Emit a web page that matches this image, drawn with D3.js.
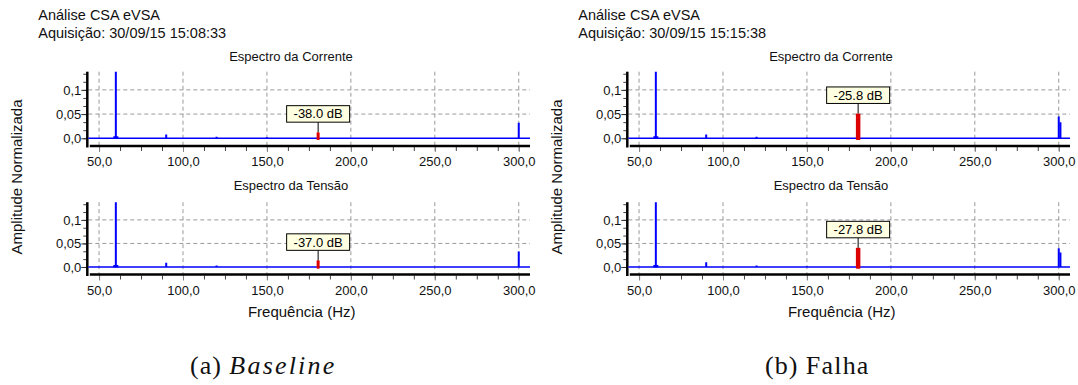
<!DOCTYPE html>
<html><head><meta charset="utf-8">
<script src="https://cdn.jsdelivr.net/npm/d3@7"></script>
<style>body{margin:0;background:#fff}svg{display:block}</style>
</head><body>
<svg id="c" width="1078" height="385"></svg>
<script>
// ---------- data ----------
const headerTitle = ["Análise CSA eVSA", "Análise CSA eVSA"];
const headerAcq = ["Aquisição: 30/09/15 15:08:33", "Aquisição: 30/09/15 15:15:38"];
const captionTag = ["(a) ", "(b) "];
const captionText = ["Baseline", "Falha"];
const plotTitles = ["Espectro da Corrente", "Espectro da Tensão"];
const xTicks = [50, 100, 150, 200, 250, 300];
const xTickLabels = ["50,0", "100,0", "150,0", "200,0", "250,0", "300,0"];
const yTicks = [0, 0.05, 0.1];
const yTickLabels = ["0,0", "0,05", "0,1"];
const xTitle = "Frequência (Hz)";
const yTitle = "Amplitude Normalizada";

// harmonic peaks (Hz) and normalized amplitudes per spectrum
const harmonicFreqs = [60, 90, 120, 150, 300, 301];
const ampBaselineCorrente = [1.0, 0.008, 0.003, 0.002, 0.032, 0.0];
const ampBaselineTensao   = [1.0, 0.009, 0.003, 0.0,   0.033, 0.0];
const ampFalhaCorrente    = [1.0, 0.008, 0.003, 0.001, 0.045, 0.033];
const ampFalhaTensao      = [1.0, 0.010, 0.003, 0.001, 0.040, 0.031];
const spectra = [[ampBaselineCorrente, ampBaselineTensao], [ampFalhaCorrente, ampFalhaTensao]];

// marked fault component
const faultFreq = 180.5;
const faultAmp = [[0.0126, 0.0141], [0.0513, 0.0407]];
const faultLabels = [["-38.0 dB", "-37.0 dB"], ["-25.8 dB", "-27.8 dB"]];

// ---------- layout ----------
const SANS = "'Liberation Sans', Arial, sans-serif";
const SERIF = "'Liberation Serif', 'Times New Roman', serif";
const panelX = [0, 540];
const plotRange = [[146, 71.7], [274.5, 202.2]];
const titleY = [61, 190];
const xDomain = [43, 306.7];
const yDomain = [-0.016, 0.1376];
const xRange = [87.3, 530];
const barW = [3, 4.5];
const captionX = [190, 765];

const svg = d3.select("#c");

headerTitle.forEach((_, pi) => {
  const g = svg.append("g").attr("transform", `translate(${panelX[pi]},0)`);
  g.append("text").attr("x", 38.3).attr("y", 20.3).attr("font-family", SANS)
    .attr("font-size", 14.5).attr("fill", "#111").text(headerTitle[pi]);
  g.append("text").attr("x", 38.3).attr("y", 37.5).attr("font-family", SANS)
    .attr("font-size", 14.5).attr("fill", "#111").text(headerAcq[pi]);

  // y axis title
  g.append("text").attr("transform", "translate(22,177) rotate(-90)")
    .attr("text-anchor", "middle").attr("font-family", SANS).attr("font-size", 15)
    .attr("fill", "#111").text(yTitle);

  // x axis title
  g.append("text").attr("x", 301.7).attr("y", 316.5).attr("text-anchor", "middle")
    .attr("font-family", SANS).attr("font-size", 15).attr("fill", "#111").text(xTitle);

  // caption
  const cap = svg.append("text").attr("x", captionX[pi]).attr("y", 374)
    .attr("font-family", SERIF).attr("font-size", 26).attr("fill", "#111");
  cap.append("tspan").attr("letter-spacing", 1.0).text(captionTag[pi]);
  cap.append("tspan").attr("font-style", pi === 0 ? "italic" : "normal")
    .attr("letter-spacing", pi === 0 ? 2.2 : 1.2).text(captionText[pi]);

  plotTitles.forEach((title, qi) => {
    const x = d3.scaleLinear().domain(xDomain).range(xRange);
    const y = d3.scaleLinear().domain(yDomain).range(plotRange[qi]);
    const pg = g.append("g");
    const clipId = `clip${pi}${qi}`;
    pg.append("clipPath").attr("id", clipId).append("rect")
      .attr("x", xRange[0]).attr("y", plotRange[qi][1])
      .attr("width", xRange[1] - xRange[0]).attr("height", plotRange[qi][0] - plotRange[qi][1]);

    // title
    pg.append("text").attr("x", 291).attr("y", titleY[qi]).attr("text-anchor", "middle")
      .attr("font-family", SANS).attr("font-size", 13).attr("fill", "#111").text(title);

    const axisY = plotRange[qi][0];
    const topY = plotRange[qi][1];

    // grid
    pg.append("g").selectAll("line").data(yTicks.filter(d => d > 0)).join("line")
      .attr("x1", xRange[0] + 1).attr("x2", xRange[1])
      .attr("y1", d => y(d)).attr("y2", d => y(d))
      .attr("stroke", "#9a9a9a").attr("stroke-width", 1).attr("stroke-dasharray", "4,3");
    pg.append("g").selectAll("line").data(xTicks).join("line")
      .attr("x1", d => x(d)).attr("x2", d => x(d))
      .attr("y1", topY).attr("y2", axisY)
      .attr("stroke", "#9a9a9a").attr("stroke-width", 1).attr("stroke-dasharray", "4,3");

    // x axis: minor ticks + major ticks with labels
    const minor = d3.range(xTicks[0], xTicks[xTicks.length - 1] + 0.1, 12.5);
    const gxm = pg.append("g").attr("transform", `translate(0,${axisY + 1})`)
      .call(d3.axisBottom(x).tickValues(minor).tickSize(4).tickFormat(""));
    gxm.select(".domain").remove();
    gxm.selectAll("line").attr("stroke", "#444");
    const gx = pg.append("g").attr("transform", `translate(0,${axisY + 1})`)
      .call(d3.axisBottom(x).tickValues(xTicks).tickSize(5).tickFormat((d, i) => xTickLabels[i]));
    gx.select(".domain").remove();
    gx.selectAll("line").attr("stroke", "#888");
    gx.selectAll("text").attr("y", 19).attr("dy", null)
      .attr("font-family", SANS).attr("font-size", 13).attr("fill", "#111");

    // y axis: minor ticks + major labels
    const yMinor = d3.range(0, yDomain[1], 0.05 / 3);
    const gym = pg.append("g").attr("transform", `translate(${xRange[0] - 1},0)`)
      .call(d3.axisLeft(y).tickValues(yMinor).tickSize(3).tickFormat(""));
    gym.select(".domain").remove();
    gym.selectAll("line").attr("stroke", "#444");
    const gy = pg.append("g").attr("transform", `translate(${xRange[0] - 1},0)`)
      .call(d3.axisLeft(y).tickValues(yTicks).tickSize(5).tickFormat((d, i) => yTickLabels[i]));
    gy.select(".domain").remove();
    gy.selectAll("line").attr("stroke", "#333");
    gy.selectAll("text").attr("x", -5).attr("font-family", SANS).attr("font-size", 13).attr("fill", "#111");

    // axis lines
    pg.append("line").attr("x1", xRange[0]).attr("x2", xRange[0])
      .attr("y1", topY).attr("y2", axisY + 1.5).attr("stroke", "#000").attr("stroke-width", 2.5);
    pg.append("line").attr("x1", xRange[0] + 2.5).attr("x2", xRange[1])
      .attr("y1", axisY).attr("y2", axisY).attr("stroke", "#000").attr("stroke-width", 2.7);

    // spectrum
    const sg = pg.append("g").attr("clip-path", `url(#${clipId})`);
    const amps = spectra[pi][qi];
    const peaks = harmonicFreqs.map((f, i) => ({ f, a: amps[i] })).filter(d => d.a > 0);
    sg.append("line").attr("x1", xRange[0] + 1).attr("x2", xRange[1])
      .attr("y1", y(0)).attr("y2", y(0)).attr("stroke", "#0000ff").attr("stroke-width", 1.6);
    sg.selectAll("line.pk").data(peaks).join("line").attr("class", "pk")
      .attr("x1", d => x(d.f)).attr("x2", d => x(d.f))
      .attr("y1", y(0)).attr("y2", d => y(d.a))
      .attr("stroke", "#0000ff").attr("stroke-width", 2);
    sg.selectAll("rect.base").data(peaks.filter(d => d.a > 0.5)).join("rect").attr("class", "base")
      .attr("x", d => x(d.f) - 2.5).attr("width", 5)
      .attr("y", y(0) - 2).attr("height", 2.5).attr("fill", "#0000ff");

    // fault marker
    const fa = faultAmp[pi][qi];
    const fx = x(faultFreq);
    pg.append("rect").attr("x", fx - barW[pi] / 2).attr("width", barW[pi])
      .attr("y", y(fa)).attr("height", y(0) - y(fa) + 1.8)
      .attr("fill", "#dd0000").attr("rx", 0.8);
    const boxW = 63, boxH = 16.5;
    const boxBottom = y(fa) - 10;
    pg.append("line").attr("x1", fx).attr("x2", fx).attr("y1", boxBottom).attr("y2", y(fa))
      .attr("stroke", "#000").attr("stroke-width", 1);
    pg.append("rect").attr("x", fx - boxW / 2).attr("y", boxBottom - boxH)
      .attr("width", boxW).attr("height", boxH)
      .attr("fill", "#ffffe1").attr("stroke", "#000").attr("stroke-width", 1);
    pg.append("text").attr("x", fx).attr("y", boxBottom - 3.8).attr("text-anchor", "middle")
      .attr("font-family", SANS).attr("font-size", 13).attr("fill", "#000").text(faultLabels[pi][qi]);
  });
});
</script>
</body></html>
